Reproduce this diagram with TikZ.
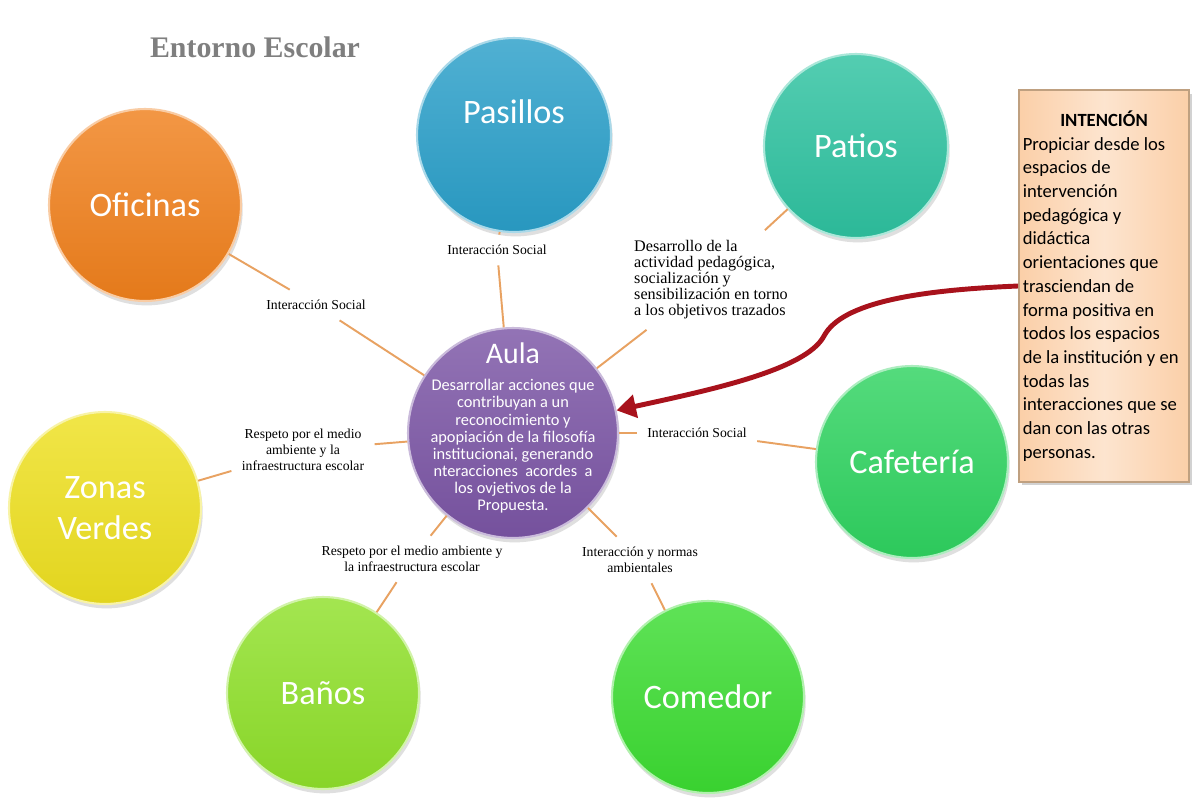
\documentclass[tikz,border=0pt]{standalone}
\usepackage{fontspec}
\setmainfont{Liberation Serif}
\newfontfamily\calibri{Carlito}
\usetikzlibrary{arrows.meta,shadows}
\definecolor{cpas}{HTML}{2A9FC9}
\definecolor{cpat}{HTML}{2EC2A0}
\definecolor{cofi}{HTML}{F0801C}
\definecolor{ccaf}{HTML}{2FD360}
\definecolor{czon}{HTML}{EEE020}
\definecolor{cban}{HTML}{8FE02A}
\definecolor{ccom}{HTML}{3CDC32}
\definecolor{caula}{HTML}{7B55A5}
\definecolor{clink}{HTML}{E8A262}
\definecolor{cnote}{HTML}{FBCFA8}
\definecolor{cedge}{HTML}{BFA080}
\definecolor{carrow}{HTML}{A8121C}
\definecolor{ctitle}{HTML}{7F7F7F}
\begin{document}
\begin{tikzpicture}[x=0.02cm,y=-0.02cm,
    spot/.style={circle,minimum size=3.84cm,align=center,text=white,
      font=\calibri\fontsize{19.5}{23}\selectfont,
      draw=#1!40!white,line width=1.2pt,top color=#1!82!white,bottom color=#1!95!black,
      drop shadow={opacity=0.25,shadow xshift=1pt,shadow yshift=-2.5pt}},
    aulatext/.style={align=center,text=white,font=\calibri\fontsize{9.3}{9.7}\selectfont},
    tag/.style={font=\fontsize{7.8}{9}\selectfont,align=center,inner sep=1pt,outer sep=5pt},
    link/.style={draw=clink,line width=1.1pt},
    note/.style={rectangle,minimum width=3.4cm,minimum height=7.84cm,
      draw=cedge,line width=1pt,left color=cnote,right color=cnote,middle color=cnote!55!white,
      font=\calibri\fontsize{10.6}{13.5}\selectfont,align=left,inner sep=1pt,
      drop shadow={opacity=0.35,shadow xshift=1.5pt,shadow yshift=-2pt}},
    cue/.style={draw=carrow,line width=2.8pt,-{Triangle[length=11pt,width=13pt]}}]
  \path[fill=white] (0,0) rectangle (1198,802);
  \node[font=\bfseries\fontsize{17}{20}\selectfont,text=ctitle] (titulo) at (255,47) {Entorno Escolar};
  % espacios
  \node[spot=cpas,minimum size=3.88cm] (pasillos) at (514,135) {Pasillos\\[4pt]\mbox{}};
  \node[spot=cpat,minimum size=3.68cm] (patios) at (856,146) {Patios};
  \node[spot=cofi] (oficinas) at (145,205) {Oficinas};
  \node[spot=ccaf] (cafeteria) at (912,462) {Cafetería};
  \node[spot=czon] (zonas) at (105,508) {Zonas\\Verdes};
  \node[spot=cban] (banos) at (323,693) {Baños};
  \node[spot=ccom] (comedor) at (708,697) {Comedor};
  \node[spot=caula,minimum size=4.2cm,
    label={[aulatext,yshift=3pt]center:{{\fontsize{17}{18}\selectfont Aula}\\[6pt]
     Desarrollar acciones que\\contribuyan a un\\reconocimiento y\\apopiación de la filosofía\\
     institucionai, generando\\nteracciones\ \ acordes\ \ a\\los ovjetivos de la\\Propuesta.}}]
    (aula) at (513,433) {};
  % textos de las relaciones
  \node[tag] (lpas) at (497,250) {Interacción Social};
  \node[tag,align=left,font=\fontsize{9.2}{9.1}\selectfont] (lpat) at (711,280) {Desarrollo de la\\actividad pedagógica,\\socialización y\\sensibilización en torno\\a los objetivos trazados};
  \node[tag] (lofi) at (316,305) {Interacción Social};
  \node[tag] (lzon) at (303,450) {Respeto por el medio\\ambiente y la\\infraestructura escolar};
  \node[tag] (lcaf) at (697,433) {Interacción Social};
  \node[tag] (lban) at (412,559) {Respeto por el medio ambiente y\\la infraestructura escolar};
  \node[tag] (lcom) at (640,560) {Interacción y normas\\ambientales};
  \node[note] (intencion) at (1104,286)
    {\makebox[3.25cm]{\textbf{INTENCIÓN}}\\Propiciar desde los\\espacios de\\intervención\\pedagógica y\\didáctica\\
     orientaciones que\\trasciendan de\\forma positiva en\\todos los espacios\\de la institución y en\\
     todas las\\interacciones que se\\dan con las otras\\personas.};
  \begin{scope}[link]
    \draw (aula) -- (lpas) -- (pasillos);
    \draw (aula) -- (lpat) -- (patios);
    \draw (aula) -- (lofi) -- (oficinas);
    \draw (aula) -- (lzon) -- (zonas);
    \draw (aula) -- (lcaf) -- (cafeteria);
    \draw (aula) -- (lban) -- (banos);
    \draw (aula) -- (lcom) -- (comedor);
  \end{scope}
  \draw[cue] (intencion.west) .. controls (920,290) and (842,302) .. (824,336)
    .. controls (806,370) and (710,390) .. (aula);
\end{tikzpicture}
\end{document}
